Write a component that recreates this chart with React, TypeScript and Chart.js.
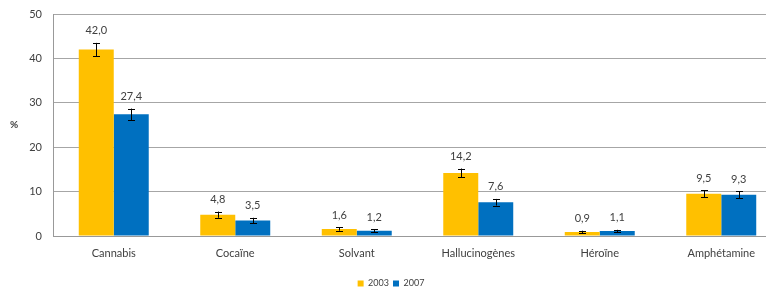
import React, { useEffect, useRef } from "react";
import { Chart, registerables } from "chart.js";

Chart.register(...registerables);

const categories = ["Cannabis", "Cocaïne", "Solvant", "Hallucinogènes", "Héroïne", "Amphétamine"];
const values2003 = [42.0, 4.8, 1.6, 14.2, 0.9, 9.5];
const values2007 = [27.4, 3.5, 1.2, 7.6, 1.1, 9.3];
const err2003 = [1.5, 0.7, 0.4, 1.0, 0.3, 0.8];
const err2007 = [1.3, 0.6, 0.3, 0.75, 0.3, 0.8];
const seriesLabels = ["2003", "2007"];
const yTicks = [0, 10, 20, 30, 40, 50];

const FONT = "Lato, 'Open Sans', sans-serif";
const TEXT = "#404040";

const errorPlugin = {
  id: "errorBarsLabels",
  afterDatasetsDraw(chart: any) {
    const ctx = chart.ctx;
    const y = chart.scales.y;
    chart.data.datasets.forEach((ds: any, di: number) => {
      const meta = chart.getDatasetMeta(di);
      meta.data.forEach((bar: any, i: number) => {
        const v = ds.data[i];
        const e = ds.errors[i];
        const yt = y.getPixelForValue(v + e);
        const yb = y.getPixelForValue(v - e);
        const x = bar.x;
        ctx.save();
        ctx.strokeStyle = "#000";
        ctx.lineWidth = 1;
        ctx.beginPath();
        ctx.moveTo(Math.round(x) + 0.5, yt);
        ctx.lineTo(Math.round(x) + 0.5, yb);
        ctx.moveTo(Math.round(x) - 3, Math.round(yt) + 0.5);
        ctx.lineTo(Math.round(x) + 4, Math.round(yt) + 0.5);
        ctx.moveTo(Math.round(x) - 3, Math.round(yb) + 0.5);
        ctx.lineTo(Math.round(x) + 4, Math.round(yb) + 0.5);
        ctx.stroke();
        ctx.fillStyle = TEXT;
        ctx.font = "11px " + FONT;
        ctx.textAlign = "center";
        ctx.textBaseline = "middle";
        ctx.fillText(v.toFixed(1).replace(".", ","), x, yt - 12);
        ctx.restore();
      });
    });
    ctx.save();
    ctx.fillStyle = TEXT;
    ctx.font = "bold 10px " + FONT;
    ctx.textAlign = "center";
    ctx.textBaseline = "middle";
    ctx.fillText("%", 14, (chart.chartArea.top + chart.chartArea.bottom) / 2);
    ctx.restore();
  },
};

export default function App() {
  const ref = useRef<HTMLCanvasElement>(null);
  useEffect(() => {
    document.body.style.margin = "0";
    document.body.style.overflow = "hidden";
    const chart = new Chart(ref.current!, {
      type: "bar",
      data: {
        labels: categories,
        datasets: [
          { label: seriesLabels[0], data: values2003, errors: err2003, backgroundColor: "#FFC000" } as any,
          { label: seriesLabels[1], data: values2007, errors: err2007, backgroundColor: "#0070C0" } as any,
        ],
      },
      options: {
        animation: false,
        responsive: false,
        maintainAspectRatio: false,
        layout: { padding: { top: 14, right: 8, left: 0, bottom: 0 } },
        datasets: { bar: { categoryPercentage: 0.576, barPercentage: 1 } },
        scales: {
          x: {
            grid: { display: false, drawTicks: false },
            border: { display: true, color: "#999999", width: 1 },
            ticks: { color: TEXT, font: { family: FONT, size: 11 }, padding: 11 },
            afterFit: (s: any) => { s.height = 39; },
          },
          y: {
            min: 0,
            max: 50,
            afterBuildTicks: (s: any) => { s.ticks = yTicks.map((v) => ({ value: v })); },
            grid: { color: "#A6A6A6", drawTicks: false },
            border: { display: true, color: "#999999" },
            ticks: { color: TEXT, font: { family: FONT, size: 11 }, padding: 11 },
            afterFit: (s: any) => { s.width = 53; s.paddingTop = 0; s.paddingBottom = 0; },
          },
        },
        plugins: {
          legend: {
            position: "bottom",
            labels: {
              boxWidth: 6,
              boxHeight: 6,
              padding: 4,
              color: TEXT,
              font: { family: FONT, size: 9 },
            },
          },
          tooltip: { enabled: false },
        },
      },
      plugins: [errorPlugin],
    });
    return () => chart.destroy();
  }, []);
  return (
    <div style={{ position: "absolute", left: 0, top: 0, width: 790, height: 298 }}>
      <canvas ref={ref} width={790} height={298} />
    </div>
  );
}
